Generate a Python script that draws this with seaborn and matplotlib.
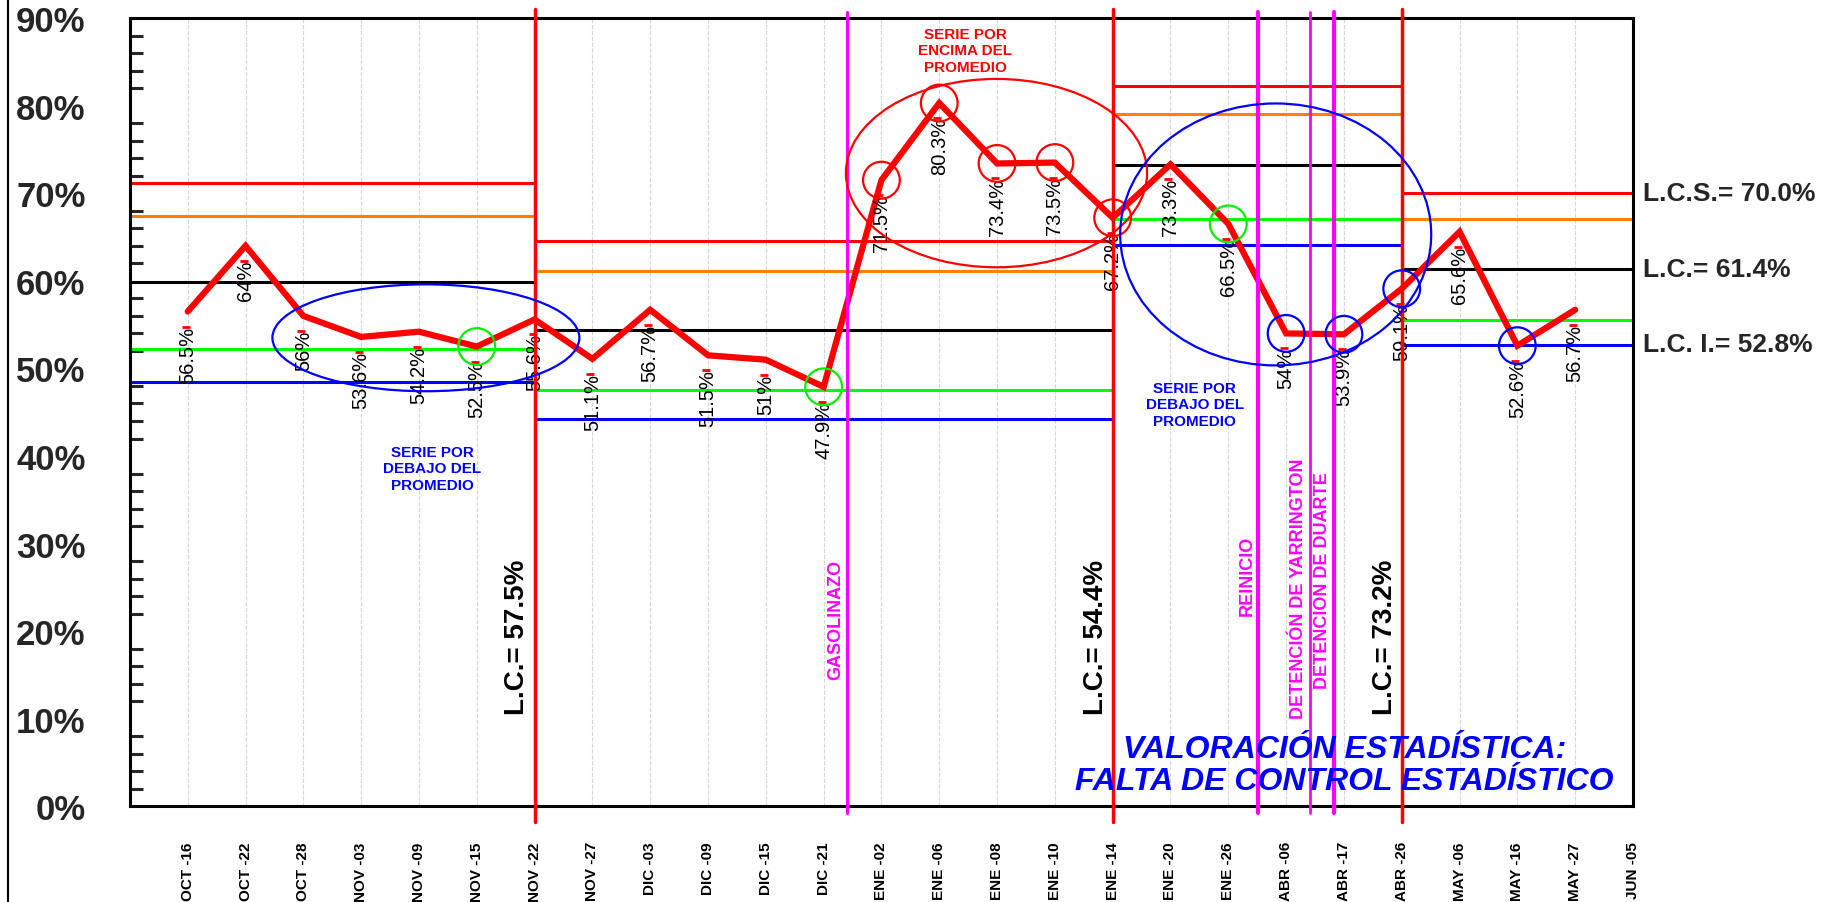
import matplotlib
matplotlib.use('Agg')
import matplotlib.pyplot as plt
import matplotlib.transforms as mtransforms
from matplotlib.patches import Ellipse
from matplotlib.lines import Line2D
import pandas as pd
import seaborn as sns

# ---- valores ----
fechas = ['', 'OCT -16', 'OCT -22', 'OCT -28', 'NOV -03', 'NOV -09', 'NOV -15',
          'NOV -22', 'NOV -27', 'DIC -03', 'DIC -09', 'DIC -15', 'DIC -21',
          'ENE -02', 'ENE -06', 'ENE -08', 'ENE -10', 'ENE -14', 'ENE -20',
          'ENE -26', 'ABR -06', 'ABR -17', 'ABR -26', 'MAY -06', 'MAY -16',
          'MAY -27', 'JUN -05']
valores = [56.5, 64, 56, 53.6, 54.2, 52.5, 55.6, 51.1, 56.7, 51.5, 51, 47.9,
           71.5, 80.3, 73.4, 73.5, 67.2, 73.3, 66.5, 54, 53.9, 59.1, 65.6, 52.6, 56.7]

# tramos de los limites de control (inicio / fin de cada tramo)
tramos = ['', 'NOV -22', 'ENE -14', 'ABR -26', 'JUN -05']
lcs = [71.2, 64.6, 82.2, 70.0]
zona_sup = [67.4, 61.1, 79.1, 67.1]
lc = [59.9, 54.4, 73.2, 61.4]
zona_inf = [52.2, 47.5, 67.1, 55.5]
lci = [48.5, 44.2, 64.1, 52.7]
lc_textos = ['L.C.= 57.5%', 'L.C.= 54.4%', 'L.C.= 73.2%']
limites_finales = ['L.C.S.= 70.0%', 'L.C.= 61.4%', 'L.C. I.= 52.8%']
limites_finales_y = [70.0, 61.4, 52.8]

# eventos (lineas magenta entre fechas)
eventos = ['GASOLINAZO', 'REINICIO', 'DETENCIÓN DE YARRINGTON', 'DETENCIÓN DE DUARTE']
eventos_pos = [12.41, 19.52, 20.41, 20.82]
eventos_texto_y = [14.5, 21.8, 10.1, 13.5]
eventos_ancho = [2.2, 3.0, 2.0, 3.0]

# puntos marcados con circulos
circ_rojo = ['ENE -02', 'ENE -06', 'ENE -08', 'ENE -10', 'ENE -14']
circ_verde = ['NOV -15', 'DIC -21', 'ENE -26']
circ_azul = ['ABR -06', 'ABR -17', 'ABR -26', 'MAY -16']

df = pd.DataFrame({'fecha': fechas[1:1 + len(valores)], 'valor': valores})
df['x'] = df['fecha'].map(fechas.index)
pos = {f: i for i, f in enumerate(fechas)}

sns.set_style('white')
plt.rcParams['font.family'] = ['Liberation Sans', 'DejaVu Sans']

fig = plt.figure(figsize=(18.35, 9.03), dpi=100)
ax = fig.add_axes([0.0708, 0.1058, 0.8191, 0.8731])
ax.set_xlim(0, 26)
ax.set_ylim(0, 90)

ax.grid(axis='x', color='#d6d6d6', linestyle='--', linewidth=0.8)
ax.set_axisbelow(True)

# limites de control por tramo
for i in range(4):
    x0, x1 = pos[tramos[i]], pos[tramos[i + 1]]
    for vals, col in [(lcs, '#ff0000'), (zona_sup, '#ff8000'), (lc, 'black'),
                      (zona_inf, '#00ff00'), (lci, '#0000ff')]:
        ax.hlines(vals[i], x0, x1, color=col, linewidth=2.2, zorder=2)

# serie principal
sns.lineplot(data=df, x='x', y='valor', color='#ff0000', linewidth=4.5, ax=ax,
             zorder=4, solid_joinstyle='miter')

# etiquetas de datos con su marca roja
for _, r in df.iterrows():
    ax.annotate(f"{r['valor']:g}%", (r['x'], r['valor']), xytext=(0, -10),
                textcoords='offset points', rotation=90, ha='center', va='top',
                fontsize=14.5, color='black', zorder=5)
marca = mtransforms.offset_copy(ax.transData, fig=fig, x=-2, y=-15, units='dots')
ax.plot(df['x'], df['valor'], ls='none', marker='_', ms=6, mew=2, color='#ff0000',
        transform=marca, zorder=5)

# circulos sobre puntos
for nombres, col in [(circ_rojo, '#ff0000'), (circ_verde, '#00ee00'), (circ_azul, '#0000ff')]:
    sub = df[df['fecha'].isin(nombres)]
    sns.scatterplot(data=sub, x='x', y='valor', s=700, marker='o', facecolor='none',
                    edgecolor=col, linewidth=1.6, ax=ax, zorder=7)

# elipses
ax.add_patch(Ellipse((5.12, 53.5), 5.31, 12.2, fill=False, edgecolor='#0000ff', lw=1.6, zorder=7))
ax.add_patch(Ellipse((14.99, 72.3), 5.21, 21.5, fill=False, edgecolor='#ff0000', lw=1.6, zorder=7))
ax.add_patch(Ellipse((19.82, 65.3), 5.38, 29.9, fill=False, edgecolor='#0000ff', lw=1.6, zorder=7))

# lineas verticales de cambio de tramo
for i, t in enumerate(tramos[1:4]):
    ax.plot([pos[t], pos[t]], [-1.8, 91.0], color='#ff0000', lw=2.5, clip_on=False, zorder=6)
    ax.annotate(lc_textos[i], (pos[t], 10.6), xytext=(-3, 0), textcoords='offset points',
                rotation=90, ha='right', va='bottom', fontsize=20, fontweight='bold',
                color='black', zorder=8)

# eventos
for nombre, xp, ty, w in zip(eventos, eventos_pos, eventos_texto_y, eventos_ancho):
    ax.plot([xp, xp], [-0.7, 90.7], color='#ff00ff', lw=w, clip_on=False, zorder=6)
    ax.annotate(nombre, (xp, ty), xytext=(-2, 0), textcoords='offset points',
                rotation=90, ha='right', va='bottom', fontsize=13, fontweight='bold',
                color='#ff00ff', zorder=8)

# textos de zonas
ax.text(5.23, 38.6, 'SERIE POR\nDEBAJO DEL\nPROMEDIO', color='#0000ff', fontsize=11,
        fontweight='bold', ha='center', va='center', linespacing=1.25)
ax.text(18.42, 45.9, 'SERIE POR\nDEBAJO DEL\nPROMEDIO', color='#0000ff', fontsize=11,
        fontweight='bold', ha='center', va='center', linespacing=1.25)
ax.text(14.45, 86.3, 'SERIE POR\nENCIMA DEL\nPROMEDIO', color='#ff0000', fontsize=11,
        fontweight='bold', ha='center', va='center', linespacing=1.25)

ax.text(21.01, 4.7, 'VALORACIÓN ESTADÍSTICA:\nFALTA DE CONTROL ESTADÍSTICO',
        color='#0000ff', fontsize=23, fontweight='bold', fontstyle='italic',
        ha='center', va='center', linespacing=1.1, zorder=9)

# limites del ultimo tramo a la derecha
trans = mtransforms.blended_transform_factory(ax.transAxes, ax.transData)
for txt, yv in zip(limites_finales, limites_finales_y):
    ax.text(1.0067, yv, txt, transform=trans, fontsize=19, fontweight='bold',
            ha='left', va='center', clip_on=False)

# ejes
for s in ax.spines.values():
    s.set_visible(True)
    s.set_linewidth(2.2)
    s.set_color('black')

ax.set_xticks(range(len(fechas)))
ax.set_xticklabels(fechas, rotation=90, fontsize=11, fontweight='bold')
ax.tick_params(axis='x', direction='out', length=17, width=2.2, pad=8, colors='black')
ax.set_yticks(range(0, 91, 10))
ax.set_yticklabels([f'{v}%' for v in range(0, 91, 10)], fontsize=25, fontweight='bold')
ax.set_yticks(range(0, 91, 2), minor=True)
ax.tick_params(axis='y', which='major', direction='out', length=17, width=2.2, pad=15)
ax.tick_params(axis='y', which='minor', direction='in', length=9.5, width=2.2, left=True)
ax.set_xlabel('')
ax.set_ylabel('')

fig.add_artist(Line2D([8 / 1835, 8 / 1835], [0, 1], color='black', lw=1.5))

fig.savefig('out.png', dpi=100)
